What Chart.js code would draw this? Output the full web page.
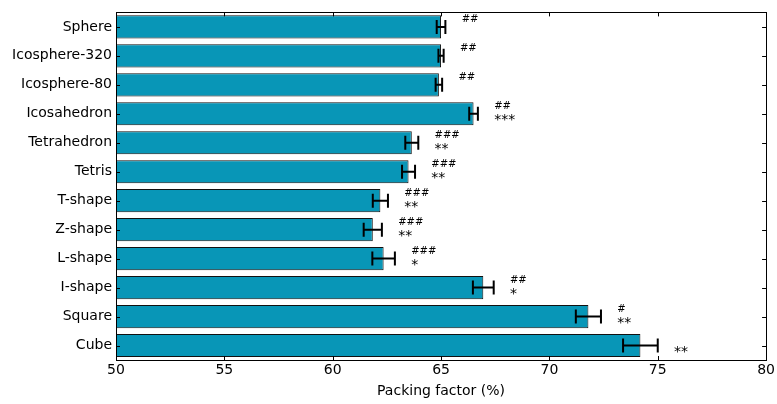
<!DOCTYPE html>
<html>
<head>
<meta charset="utf-8">
<script src="https://cdn.jsdelivr.net/npm/chart.js@4.4.1/dist/chart.umd.min.js"></script>
<style>
  html, body { margin: 0; padding: 0; background: #fff; }
  #wrap { width: 777px; height: 404px; }
</style>
</head>
<body>
<div id="wrap"><canvas id="packChart"></canvas></div>
<script>
const categories = ['Sphere', 'Icosphere-320', 'Icosphere-80', 'Icosahedron', 'Tetrahedron', 'Tetris',
    'T-shape', 'Z-shape', 'L-shape', 'I-shape', 'Square', 'Cube'];
const means = [65.0, 65.0, 64.9, 66.5, 63.65, 63.5, 62.2, 61.85, 62.35, 66.95, 71.8, 74.2];
const errors = [0.2, 0.12, 0.15, 0.2, 0.3, 0.3, 0.35, 0.42, 0.52, 0.48, 0.58, 0.8];
const hashMarks = ['##', '##', '##', '##', '###', '###', '###', '###', '###', '##', '#', ''];
const starMarks = ['', '', '', '***', '**', '**', '**', '**', '*', '*', '**', '**'];
const xTicks = [50, 55, 60, 65, 70, 75, 80];

const FONT = 'DejaVu Sans';

// error bars, significance marks, inward ticks and the box frame
const extras = {
    id: 'extras',
    afterDatasetsDraw(chart) {
        const ctx = chart.ctx;
        const x = chart.scales.x;
        const y = chart.scales.y;
        const a = chart.chartArea;
        ctx.save();

        // error bars
        ctx.strokeStyle = '#000';
        ctx.lineWidth = 2;
        means.forEach((m, i) => {
            const cy = y.getPixelForValue(i);
            const x0 = x.getPixelForValue(m - errors[i]);
            const x1 = x.getPixelForValue(m + errors[i]);
            ctx.beginPath();
            ctx.moveTo(x0, cy); ctx.lineTo(x1, cy);
            ctx.moveTo(x0, cy - 7); ctx.lineTo(x0, cy + 7);
            ctx.moveTo(x1, cy - 7); ctx.lineTo(x1, cy + 7);
            ctx.stroke();
        });

        // significance marks
        ctx.fillStyle = '#000';
        ctx.textAlign = 'left';
        ctx.textBaseline = 'middle';
        means.forEach((m, i) => {
            const cy = y.getPixelForValue(i);
            const tx = x.getPixelForValue(m + errors[i] + 0.75);
            ctx.font = '10px "' + FONT + '"';
            if (hashMarks[i]) ctx.fillText(hashMarks[i], tx, cy - 7);
            ctx.font = '14px "' + FONT + '"';
            if (starMarks[i]) ctx.fillText(starMarks[i], tx, cy + 7);
        });

        // ticks pointing inward
        ctx.lineWidth = 1;
        ctx.beginPath();
        xTicks.forEach(v => {
            const px = Math.round(x.getPixelForValue(v)) + 0.5;
            ctx.moveTo(px, a.bottom); ctx.lineTo(px, a.bottom - 4);
            ctx.moveTo(px, a.top); ctx.lineTo(px, a.top + 4);
        });
        categories.forEach((c, i) => {
            const py = Math.round(y.getPixelForValue(i)) + 0.5;
            ctx.moveTo(a.left, py); ctx.lineTo(a.left + 4, py);
            ctx.moveTo(a.right, py); ctx.lineTo(a.right - 4, py);
        });
        ctx.stroke();

        // frame
        ctx.strokeRect(Math.round(a.left) + 0.5, Math.round(a.top) + 0.5,
            Math.round(a.right - a.left), Math.round(a.bottom - a.top));
        ctx.restore();
    }
};

function init() {
    const ctx = document.getElementById('packChart').getContext('2d');
    new Chart(ctx, {
        type: 'bar',
        data: {
            labels: categories,
            datasets: [{
                data: means,
                backgroundColor: '#0896b7',
                borderColor: '#111',
                borderWidth: 1,
                borderSkipped: false,
                barPercentage: 0.8,
                categoryPercentage: 1.0
            }]
        },
        options: {
            indexAxis: 'y',
            responsive: true,
            maintainAspectRatio: false,
            animation: false,
            layout: { padding: { top: 9, right: 8, left: 0, bottom: 4 } },
            plugins: {
                legend: { display: false },
                tooltip: { enabled: false }
            },
            scales: {
                x: {
                    min: 50,
                    max: 80,
                    afterBuildTicks: s => { s.ticks = xTicks.map(v => ({ value: v })); },
                    afterFit: s => { s.height = 40; },
                    grid: { display: false, drawTicks: false },
                    border: { display: false },
                    ticks: { color: '#000', font: { family: FONT, size: 14 }, padding: 2 },
                    title: {
                        display: true,
                        text: 'Packing factor (%)',
                        color: '#000',
                        font: { family: FONT, size: 14 },
                        padding: { top: 0, bottom: 0 }
                    }
                },
                y: {
                    afterFit: s => { s.width = 116; },
                    grid: { display: false, drawTicks: false },
                    border: { display: false },
                    ticks: { color: '#000', font: { family: FONT, size: 14 }, padding: 4 }
                }
            }
        },
        plugins: [extras]
    });
}

document.addEventListener('DOMContentLoaded', init);
</script>
</body>
</html>
